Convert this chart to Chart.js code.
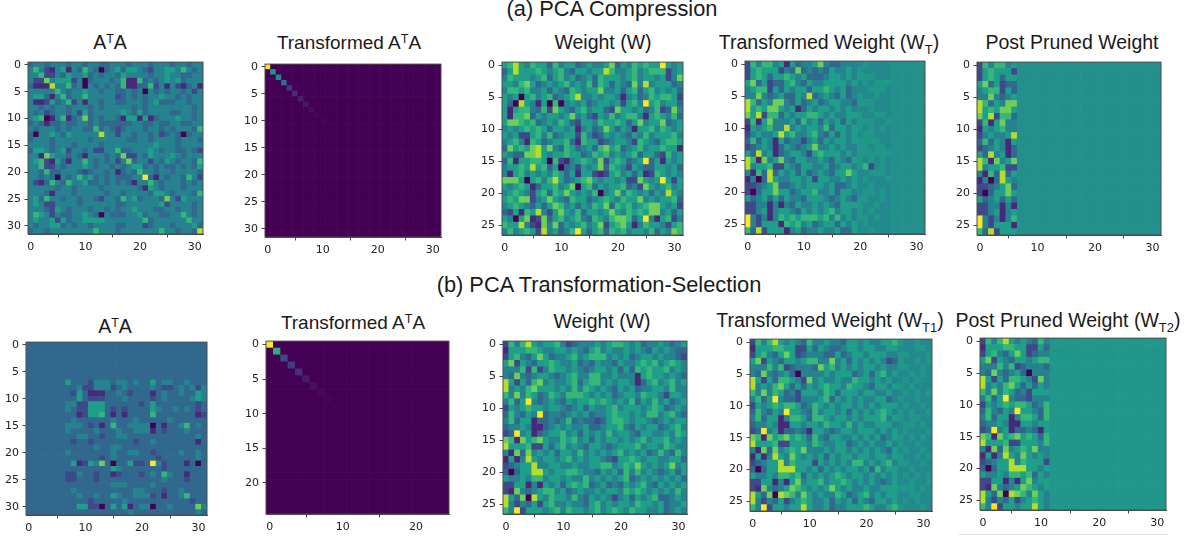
<!DOCTYPE html>
<html><head><meta charset="utf-8">
<style>
html,body{margin:0;padding:0;background:#fff;width:1184px;height:537px;overflow:hidden}
canvas{position:absolute;filter:blur(0.45px)}
.t{position:absolute;transform:translate(-50%,-50%);font-family:"Liberation Sans",Arial,sans-serif;font-size:19.5px;color:#1a1a1a;white-space:nowrap;line-height:1}
.h{font-size:21.8px}
sup{font-size:12.5px;line-height:0;vertical-align:6px}
sub{font-size:13px;line-height:0;vertical-align:-5px}
</style>
<script src="https://cdn.jsdelivr.net/npm/chart.js@4/dist/chart.umd.min.js"></script>
</head><body>
<div class="t h" style="left:612px;top:9px">(a) PCA Compression</div>
<div class="t h" style="left:599px;top:285px">(b) PCA Transformation-Selection</div>
<div class="t" style="left:110px;top:43px">A<sup>T</sup>A</div>
<div class="t" style="left:349px;top:42px;font-size:19px">Transformed A<sup>T</sup>A</div>
<div class="t" style="left:603px;top:43px">Weight (W)</div>
<div class="t" style="left:829px;top:43px">Transformed Weight (W<sub>T</sub>)</div>
<div class="t" style="left:1072px;top:43px">Post Pruned Weight</div>
<div class="t" style="left:115px;top:327px">A<sup>T</sup>A</div>
<div class="t" style="left:353px;top:322px;font-size:19px">Transformed A<sup>T</sup>A</div>
<div class="t" style="left:602px;top:322px">Weight (W)</div>
<div class="t" style="left:830px;top:321px">Transformed Weight (W<sub>T1</sub>)</div>
<div class="t" style="left:1068px;top:321px">Post Pruned Weight (W<sub>T2</sub>)</div>
<div style="position:absolute;left:958px;top:534px;width:210px;height:1px;background:#e6e6e6"></div>
<script>
// Tick labels
const xTicks32=[0,10,20,30], xTicks25=[0,10,20];
const yTicks32=[0,5,10,15,20,25,30], yTicks27=[0,5,10,15,20,25], yTicks25=[0,5,10,15,20];

// Cell values: one digit per cell, 0 (lowest) to 9 (highest); a = 4.25 and b = 4.75 for cells close to the mid value.
// A row shorter than the panel continues with that panel's constant value.
const ataA=[
"3443444344 3443344434 4434443443 44","4642145143 6430345355 4324455464 34","4462243544 5343443544 4434454433 44","4227455524 0344434611 6343454534 44",
"3111844634 0434343611 3362414213 41","4444464344 5443443343 4043434434 24","4553146344 6444442343 4344544343 44","4112534624 1443443344 4345333443 44",
"4434344344 4343444443 4344444444 34","4342344342 5344444543 5344443344 34","4560146134 7343443155 1513444544 34","3431334334 4343333334 4334334433 44",
"4344434344 3363432344 4344343444 36","3044543544 4448442443 4434234303 44","3444344444 4344444433 4434444344 43","4444344434 4443444444 4445444344 44",
"3554345244 3422446334 4454344334 32","4417544343 1444343722 4354445434 44","4562153144 6434342473 4424354344 36","4462243444 5434434345 5343433434 35",
"4436334443 2344341343 6443443444 43","4434304346 4534343334 4931434436 42","4213643644 5334343431 4464344434 34","4444434434 4443444444 3154344434 44",
"4443144434 4444344344 4435543444 36","4536443443 4432443645 3444374254 44","4542244443 4444443344 4444524444 34","4443254344 4344343445 4443344344 34",
"4654243344 5430433344 5344334464 34","4544525344 5555444444 4634444446 44","4344553434 4344443344 4234443444 53","3443444444 4464443444 4444644344 38"];
const transformedDiagA=[9,4.6,4.2,3.2,1.4,1.0,0.8,0.6,0.3,0.15,0.08];
const weightA=[
"5685465536 4553454457 3546565595 45","3585556545 6435545586 4456456662 45","4655545635 6453453655 5456455452 47","5546753454 5645463653 5437484555 34",
"4665644535 4365455744 5356356454 53","5450564563 4568445455 4145346566 52","5308541506 0454534554 5256495645 53","5156643627 5435645532 7554534623 74",
"5166735455 4574532546 4566415654 63","5776563454 6532554655 6535745573 45","4545656535 5451453475 3541556465 45","5452256463 4552642354 5435464555 64",
"4564165345 5631655234 5542654356 65","3756578574 3653453675 6345645565 51","5433778545 5655346564 5456355326 45","3615566506 2145654725 6534593515 45",
"4556585635 0342545736 5425433554 53","4156454546 5351552125 6453512654 54","7775056468 5345675455 4522754595 25","5456513556 4570563545 5634275456 45",
"4565425636 5754546045 7465453548 54","5657724575 4365534565 4655745455 63","4565435357 6453546573 6564567754 52","3251658425 7546355457 5465657745 35",
"5405712735 6456436546 7763594156 24","6558421747 3545645725 6751465542 56","4645652845 3469535636 5645546354 76"];
const transformedWeightA=[
"2646645 1534457433 444abaaaa","2565552 4373434354 454baaaaa","2565355 6545333455 454bbbaaa","5735233 5643544555 545ababbb",
"4566253 5455355654 534aabbba","4474345 3354834543 534baabaa","8635477 4353453455 443bbbaaa","8565775 4513545545 454aabaaa",
"7582663 5455665454 455baabba","2615744 4536453545 354bbbaab","1545644 8454554635 545bababa","2454458 5644564353 545abbaaa",
"3635415 3442453545 545bbbbaa","2345413 5434574454 544bbabba","5384513 4554256555 454bbbbbb","8617457 4355445435 435bababa",
"8455622 5435544534 554b62aba","4163835 4535345435 575aabbba","1403854 4554525544 545abaaab","2234573 3454555453 345aabaaa",
"2035575 5345564453 554abbaba","5345353 5443555434 543bbaaba","2244141 4354454543 555baabaa","2245145 5435454564 554babaaa",
"9424146 5656665646 454bbabaa","9425551 6564534553 545abaaaa","6382555 1453445445 335aabaaa"];
const prunedWeightA=[
"2646645","2565552","2565355","5735233","4566253","4474345","8635477","8565775","7582663","2615744","1545644","2454458","3635415","2345413",
"5384513","8617457","8455622","4163835","1403854","2234573","2035575","5345353","2244141","2245145","9424146","9425551","6382555"];
const ataB=[
"","","","","","","",
"3333333 5333244434 4343353443 34333","3333333 3342244423 4333343223 43424","3333333 3253111334 3233313433 43354","3333333 3353222333 4333323433 33454",
"3333333 4422555333 3332353333 33323","3333333 4322555323 2333354334 34323","3333333 3312556313 1333363333 33312","3333333 3433333343 3343333343 33333",
"3333333 4443231363 3444403133 46343","3333333 4333343334 3344413233 34333","3333333 3344332334 4333333333 33343","3333333 3233233333 3323343333 33313",
"3333333 3333343344 3333333333 33333","3333333 4333333343 3443323333 43343","3333333 3333332343 3333332333 33343","3333333 3512547303 3522394233 31303",
"3333333 3333333354 3333333233 33333","3333333 2243323312 3332343643 31333","3333333 2233323333 3333333433 32333","3333333 3333333344 4333343333 33333",
"3333333 3433333333 3344333233 43333","3333333 3343343354 3344423133 46333","3333333 3333233333 4333333333 33233","3333333 3355220353 5134403343 33374",
"3333333 3333333333 3433333333 33343"];
const transformedDiagB=[9,5.6,2.0,1.6,1.2,0.7,0.4,0.2,0.1,0.05];
const weightB=[
"2646854 5564234445 4566545344 54345","1555665 4455454356 4544545435 45433","2564357 5344564566 6454534554 54432","5725435 5654453435 4435445656 45654",
"4446262 4655454345 5453536565 56454","4374345 5434564466 4454441565 54543","8525367 4544563566 4545541356 45645","8454675 5545464654 5435453445 54644",
"6474653 4654666545 4534554655 42554","4635943 4543545565 6545463546 45345","2545655 4554345354 4564555456 53454","3643549 3443454534 4565545466 45643",
"4635513 3434634332 3566545543 45455","3445411 3454544533 4556435455 34564","2394513 4556453545 4645543554 45465","7617567 5446564535 4554545645 56454",
"8555622 5356454355 4345556455 46544","4173745 4535546454 5456454534 64364","1514854 5545645455 4325565455 44553","2345584 4554454455 6645657545 45745",
"3035588 5455665443 5453646454 34535","5445466 4554544645 4545634545 45453","2255141 5453565634 5343545643 54545","2174345 6645345445 4554656545 45464",
"8537085 4655464354 5424535456 33454","8424352 5644544356 4545546554 53445","6492555 4564655456 4565465544 53454"];
const transformedWeightB=[
"264685454364 4544355454 4556baabaa","155566552253 5433455455 4455aaabba","256435752344 4335345545 5544bbaaab","572543554566 4474535454 5423baabab",
"444646234443 7564545455 4544bbaaba","437434530444 4545553453 5645aababa","852536654274 5445446554 5454ababaa","845467535354 5655465543 5545babaaa",
"647465342555 4653555455 4454ababab","463594332444 5635454544 5534baabaa","254565665346 5454554545 4555abaaba","364354955436 4554535454 5654babaab",
"463551466536 6545545455 5645babbaa","344541155455 4655464544 5554abbaba","239451334315 5434554555 4545abaaab","761756756536 4355445454 5345bababa",
"855562255546 5445534545 4454baabaa","417374565744 4545545454 5435abaaba","151485475454 5354554554 5545baabab","234558465552 5454546645 4564bbaaba",
"303558885545 3545455453 6455aabaaa","544546656354 5456545545 4545ababab","225514157455 6455654545 4345aabaab","217434576545 4575454454 4555bbbaba",
"853708764754 5446534564 5455aabbaa","842435245654 4535453543 5545ababaa","649255455854 4534455565 4456baaaba"];
const prunedWeightB=[
"264685454364","155566552253","256435752344","572543554566","444646234443","437434530444","852536654274","845467535354","647465342555",
"463594332444","254565665346","364354955436","463551466536","344541155455","239451334315","761756756536","855562255546","417374565744",
"151485475454","234558465552","303558885545","544546656354","225514157455","217434576545","853708764754","842435245654","649255455854"];

// Constant value of the untouched area of a panel
const fillAtaA=3.7, fillZero=0, fillWeightA=4.5, fillAtaB=3, fillWeightB=4.7;
const letterValues={a:4.25,b:4.75};

function digitRows(rows,nCols,fill){
  return rows.map(r=>{
    const s=r.replace(/\s/g,''); const out=[];
    for(let c=0;c<nCols;c++) out.push(c<s.length?(s[c] in letterValues?letterValues[s[c]]:+s[c]):fill);
    return out;
  });
}
function diagRows(diag,n){
  const m=[];
  for(let r=0;r<n;r++){const row=new Array(n).fill(fillZero); if(r<diag.length) row[r]=diag[r]; m.push(row);}
  return m;
}
const stops=['#440154','#482878','#3e4989','#31688e','#26828e','#1f9e89','#35b779','#6ece58','#b5de2b','#fde725'];
function hex(h){return [1,3,5].map(i=>parseInt(h.substr(i,2),16));}
function viridis(v){
  const i=Math.min(8,Math.floor(v)),t=v-i,a=hex(stops[i]),b=hex(stops[i+1]);
  return 'rgb('+a.map((x,k)=>Math.round(x+(b[k]-x)*t)).join(',')+')';
}
const frame={id:'frame',afterDraw(ch){
  const a=ch.chartArea,c=ch.ctx;c.save();c.strokeStyle='#4d4d4d';c.lineWidth=1;
  c.strokeRect(a.left,a.top,a.right-a.left,a.bottom-a.top);c.restore();}};
const M={l:28,t:10,r:12,b:26};
function panel(matrix,xT,yT,left,top,right,bottom){
  const nR=matrix.length,nC=matrix[0].length,data=[],colors=[];
  matrix.forEach((row,r)=>row.forEach((v,c)=>{data.push({x:c,y:[r-0.5,r+0.5]});colors.push(viridis(v));}));
  const cv=document.createElement('canvas');
  const W=right-left+M.l+M.r,H=bottom-top+M.t+M.b;
  cv.width=W;cv.height=H;cv.style.left=(left-M.l)+'px';cv.style.top=(top-M.t)+'px';cv.style.width=W+'px';cv.style.height=H+'px';
  document.body.appendChild(cv);
  const font={family:'"DejaVu Sans"',size:11};
  const tick={color:'#222',font,padding:3.5,autoSkip:false,maxRotation:0,minRotation:0};
  const grid={drawOnChartArea:false,drawTicks:true,tickLength:3.5,tickColor:'#444',tickWidth:1};
  new Chart(cv,{type:'bar',plugins:[frame],
    data:{datasets:[{data,backgroundColor:colors,borderWidth:0,barPercentage:1,categoryPercentage:1}]},
    options:{responsive:false,animation:false,devicePixelRatio:1,events:[],
      layout:{padding:{top:M.t,right:M.r,left:0,bottom:0}},
      plugins:{legend:{display:false},tooltip:{enabled:false},title:{display:false}},
      scales:{
        x:{type:'linear',offset:false,min:-0.5,max:nC-0.5,grid,border:{color:'#4d4d4d'},ticks:tick,
           afterBuildTicks:s=>{s.ticks=xT.map(v=>({value:v}));},afterFit:s=>{s.height=M.b;}},
        y:{type:'linear',reverse:true,min:-0.5,max:nR-0.5,grid,border:{color:'#4d4d4d'},ticks:tick,
           afterBuildTicks:s=>{s.ticks=yT.map(v=>({value:v}));},afterFit:s=>{s.width=M.l;}}
      }}});
}
panel(digitRows(ataA,32,fillAtaA),xTicks32,yTicks32,28,62,203,234);
panel(diagRows(transformedDiagA,32),xTicks32,yTicks32,265,64,441,237);
panel(digitRows(weightA,32,fillWeightA),xTicks32,yTicks27,502,62,683,235);
panel(digitRows(transformedWeightA,32,fillWeightA),xTicks32,yTicks27,745,61,925,234);
panel(digitRows(prunedWeightA,32,fillWeightA),xTicks32,yTicks27,977,62,1161,235);
panel(digitRows(ataB,32,fillAtaB),xTicks32,yTicks32,26,342,207,515);
panel(diagRows(transformedDiagB,25),xTicks25,yTicks25,266,341,449,514);
panel(digitRows(weightB,32,fillWeightB),xTicks32,yTicks27,503,341,687,514);
panel(digitRows(transformedWeightB,32,fillWeightB),xTicks32,yTicks27,750,339,932,511);
panel(digitRows(prunedWeightB,32,fillWeightB),xTicks32,yTicks27,980,338,1166,510);
</script>
</body></html>
